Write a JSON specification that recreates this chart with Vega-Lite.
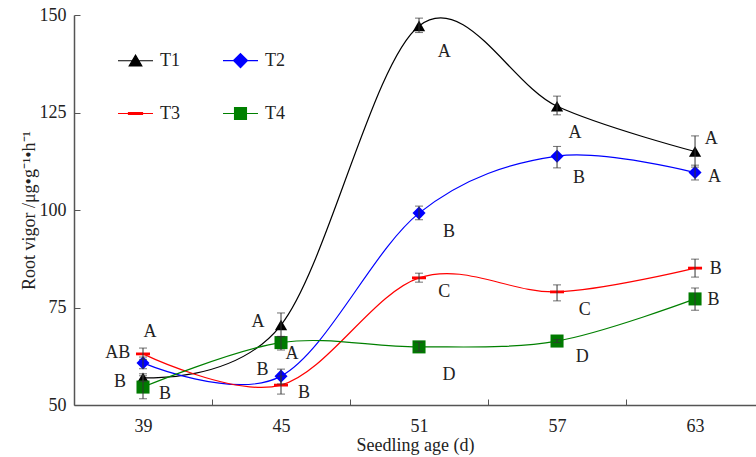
{
  "$schema": "https://vega.github.io/schema/vega-lite/v6.json",
  "width": 682,
  "height": 390,
  "autosize": "none",
  "padding": {"left": 74, "top": 15, "right": 0, "bottom": 52},
  "background": "white",
  "datasets": {
    "pts": [
      {"series": "T1", "x": 39, "y": 57.0, "lo": 56.0, "hi": 58.0},
      {"series": "T1", "x": 45, "y": 70.5, "lo": 67.5, "hi": 73.6},
      {"series": "T1", "x": 51, "y": 147.2, "lo": 145.5, "hi": 149.2},
      {"series": "T1", "x": 57, "y": 126.6, "lo": 124.4, "hi": 129.2},
      {"series": "T1", "x": 63, "y": 115.0, "lo": 111.0, "hi": 119.0},
      {"series": "T2", "x": 39, "y": 60.8, "lo": 59.3, "hi": 62.3},
      {"series": "T2", "x": 45, "y": 57.4, "lo": 55.4, "hi": 59.2},
      {"series": "T2", "x": 51, "y": 99.2, "lo": 97.5, "hi": 101.0},
      {"series": "T2", "x": 57, "y": 113.8, "lo": 110.8, "hi": 116.3},
      {"series": "T2", "x": 63, "y": 109.6, "lo": 107.7, "hi": 111.5},
      {"series": "T3", "x": 39, "y": 63.1, "lo": 61.7, "hi": 64.6},
      {"series": "T3", "x": 45, "y": 55.1, "lo": 52.8, "hi": 57.4},
      {"series": "T3", "x": 51, "y": 82.6, "lo": 81.5, "hi": 83.8},
      {"series": "T3", "x": 57, "y": 79.0, "lo": 76.7, "hi": 80.8},
      {"series": "T3", "x": 63, "y": 85.1, "lo": 82.8, "hi": 87.4},
      {"series": "T4", "x": 39, "y": 54.6, "lo": 51.6, "hi": 57.5},
      {"series": "T4", "x": 45, "y": 66.0, "lo": 64.1, "hi": 67.6},
      {"series": "T4", "x": 51, "y": 64.9, "lo": 63.8, "hi": 66.1},
      {"series": "T4", "x": 57, "y": 66.4, "lo": 66.0, "hi": 66.8},
      {"series": "T4", "x": 63, "y": 77.2, "lo": 74.3, "hi": 80.0}
    ],
    "letters": [
      {"x": 39.3, "y": 68.7, "t": "A"},
      {"x": 37.9, "y": 63.3, "t": "AB"},
      {"x": 38.0, "y": 55.9, "t": "B"},
      {"x": 39.96, "y": 52.8, "t": "B"},
      {"x": 44.0, "y": 71.3, "t": "A"},
      {"x": 45.48, "y": 63.1, "t": "A"},
      {"x": 44.2, "y": 59.0, "t": "B"},
      {"x": 46.0, "y": 53.0, "t": "B"},
      {"x": 52.1, "y": 140.5, "t": "A"},
      {"x": 52.3, "y": 94.4, "t": "B"},
      {"x": 52.1, "y": 79.0, "t": "C"},
      {"x": 52.3, "y": 57.7, "t": "D"},
      {"x": 57.78, "y": 119.7, "t": "A"},
      {"x": 57.96, "y": 108.2, "t": "B"},
      {"x": 58.2, "y": 74.4, "t": "C"},
      {"x": 58.1, "y": 62.3, "t": "D"},
      {"x": 63.7, "y": 118.2, "t": "A"},
      {"x": 63.85, "y": 108.5, "t": "A"},
      {"x": 63.9, "y": 84.9, "t": "B"},
      {"x": 63.8, "y": 76.9, "t": "B"}
    ]
  },
  "encoding": {
    "x": {
      "field": "x", "type": "quantitative",
      "scale": {"domain": [36, 65.65], "nice": false, "zero": false},
      "axis": {
        "title": "Seedling age (d)",
        "titleFont": "Liberation Serif", "titleFontSize": 18, "titleFontWeight": "normal", "titleColor": "#222",
        "titlePadding": 1,
        "values": [39, 42, 45, 48, 51, 54, 57, 60, 63],
        "labelExpr": "datum.value % 6 == 3 ? datum.label : ''",
        "labelFont": "Liberation Serif", "labelFontSize": 18, "labelColor": "#222",
        "tickSize": -6,
        "labelPadding": 18,
        "tickColor": {"condition": {"test": "datum.value % 6 == 0", "value": "#555"}, "value": "transparent"},
        "domainColor": "#555", "domainWidth": 1.5, "tickWidth": 1,
        "grid": false
      }
    },
    "y": {
      "field": "y", "type": "quantitative",
      "scale": {"domain": [50, 150], "nice": false, "zero": false},
      "axis": {
        "title": "Root vigor /μg•g⁻¹•h⁻¹",
        "titleFont": "Liberation Serif", "titleFontSize": 18, "titleFontWeight": "normal", "titleColor": "#222",
        "titlePadding": 1,
        "values": [50, 75, 100, 125, 150],
        "labelFont": "Liberation Serif", "labelFontSize": 18, "labelColor": "#222",
        "tickSize": -6,
        "labelPadding": 14,
        "tickColor": "#555", "domainColor": "#555", "domainWidth": 1.5,
        "grid": false
      }
    }
  },
  "layer": [
    {
      "data": {"name": "pts"},
      "mark": {"type": "line", "interpolate": "cardinal", "strokeWidth": 1.2},
      "encoding": {
        "detail": {"field": "series", "type": "nominal"},
        "stroke": {
          "condition": [
            {"test": "datum.series == 'T1'", "value": "#000000"},
            {"test": "datum.series == 'T2'", "value": "#0000ff"},
            {"test": "datum.series == 'T3'", "value": "#ff0000"}
          ],
          "value": "#008000"
        }
      }
    },
    {
      "data": {"name": "pts"},
      "mark": {"type": "point", "filled": true, "opacity": 0, "strokeWidth": 1.2},
      "encoding": {
        "color": {
          "field": "series", "type": "nominal",
          "scale": {"domain": ["T1", "T2", "T3", "T4"], "range": ["#000000", "#0000ff", "#ff0000", "#008000"]},
          "legend": {
            "symbolOpacity": 1, "orient": "none", "legendX": 43, "legendY": 27,
            "encode": {"symbols": {"update": {
              "stroke": {"signal": "scale('color', datum.value)"},
              "strokeWidth": {"value": 1.2}
            }}}
          }
        },
        "shape": {
          "field": "series", "type": "nominal",
          "scale": {"domain": ["T1", "T2", "T3", "T4"], "range": [
            "M-1,0L1,0M0,-0.32L0.36,0.3L-0.36,0.3Z",
            "M-1,0L1,0M0,-0.4L0.4,0L0,0.4L-0.4,0Z",
            "M-1,0L1,0M-0.4,-0.05L0.4,-0.05L0.4,0.05L-0.4,0.05Z",
            "M-1,0L1,0M-0.34,-0.34L0.34,-0.34L0.34,0.34L-0.34,0.34Z"
          ]},
          "legend": {"symbolOpacity": 1, "orient": "none", "legendX": 43, "legendY": 27}
        }
      }
    },
    {
      "data": {"name": "pts"},
      "mark": {"type": "point", "filled": true, "opacity": 1, "strokeWidth": 0},
      "encoding": {
        "shape": {
          "condition": [
            {"test": "datum.series == 'T1'", "value": "triangle-up"},
            {"test": "datum.series == 'T2'", "value": "diamond"},
            {"test": "datum.series == 'T3'", "value": "M-1,-0.2L1,-0.2L1,0.2L-1,0.2Z"}
          ],
          "value": "square"
        },
        "fill": {
          "condition": [
            {"test": "datum.series == 'T1'", "value": "#000000"},
            {"test": "datum.series == 'T2'", "value": "#0000ff"},
            {"test": "datum.series == 'T3'", "value": "#ff0000"}
          ],
          "value": "#007a00"
        },
        "size": {
          "condition": [
            {"test": "datum.series == 'T1'", "value": 150},
            {"test": "datum.series == 'T2'", "value": 170},
            {"test": "datum.series == 'T3'", "value": 196}
          ],
          "value": 170
        }
      }
    },
    {
      "data": {"name": "pts"},
      "mark": {"type": "rule", "color": "#333", "strokeWidth": 1},
      "encoding": {
        "y": {"field": "lo", "type": "quantitative"},
        "y2": {"field": "hi"}
      }
    },
    {
      "data": {"name": "pts"},
      "mark": {"type": "tick", "orient": "horizontal", "color": "#333", "size": 8, "thickness": 1},
      "encoding": {"y": {"field": "lo", "type": "quantitative"}}
    },
    {
      "data": {"name": "pts"},
      "mark": {"type": "tick", "orient": "horizontal", "color": "#333", "size": 8, "thickness": 1},
      "encoding": {"y": {"field": "hi", "type": "quantitative"}}
    },
    {
      "data": {"name": "letters"},
      "mark": {"type": "text", "font": "Liberation Serif", "fontSize": 18, "color": "#222", "align": "center", "baseline": "middle"},
      "encoding": {"text": {"field": "t", "type": "nominal"}}
    }
  ],
  "config": {
    "view": {"stroke": null},
    "font": "Liberation Serif",
    "legend": {
      "title": null,
      "columns": 2,
      "direction": "horizontal",
      "symbolSize": 1225,
      "symbolStrokeWidth": 1.2,
      "symbolOpacity": 1,
      "labelFont": "Liberation Serif",
      "labelFontSize": 18,
      "labelColor": "#222",
      "labelOffset": 6,
      "columnPadding": 40,
      "rowPadding": 25,
      "padding": 0
    }
  }
}
